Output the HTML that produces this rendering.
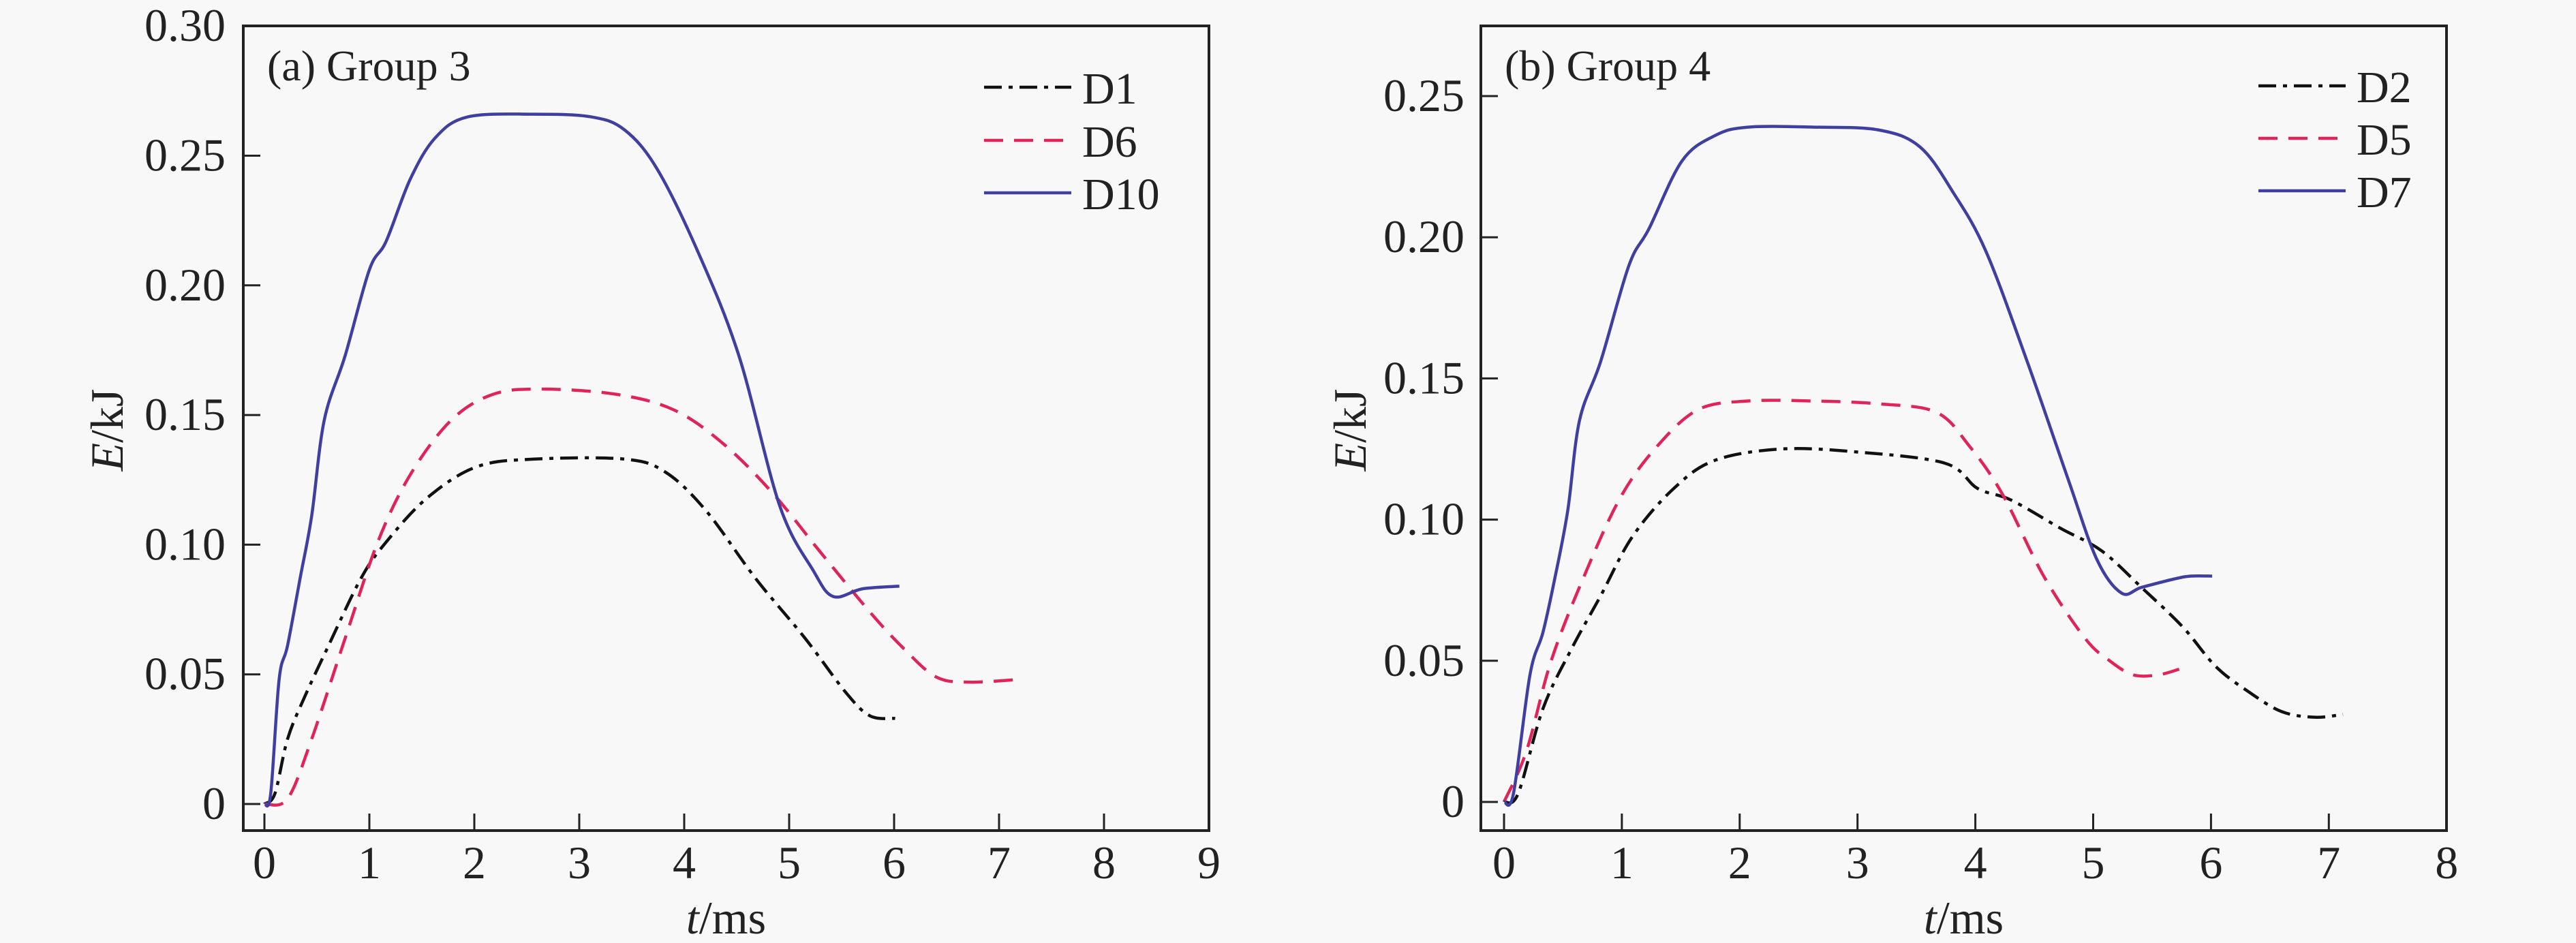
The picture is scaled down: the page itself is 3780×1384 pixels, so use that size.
<!DOCTYPE html>
<html><head><meta charset="utf-8"><style>
html,body{margin:0;padding:0;background:#f8f8f8;}
svg{display:block;font-family:"Liberation Serif",serif;}
</style></head><body>
<svg id="chart" width="3780" height="1384" viewBox="0 0 3780 1384" xmlns="http://www.w3.org/2000/svg">
<rect width="3780" height="1384" fill="#f8f8f8"/>
</svg>
<script>
// Panel (a) data
const aD1_t=[0,0.1,0.22,0.38,0.61,0.92,1.16,1.55,2.02,2.57,3.43,3.82,4.21,4.68,5.15,5.54,5.77,6.01];
const aD1_E=[0,0.004,0.025,0.041,0.061,0.087,0.101,0.118,0.130,0.133,0.133,0.128,0.113,0.087,0.064,0.043,0.034,0.033];
const aD6_t=[0,0.22,0.45,0.77,1.08,1.39,1.78,2.18,2.64,3.35,3.9,4.37,4.84,5.3,5.77,6.09,6.4,6.71,7.18];
const aD6_E=[0,0.002,0.025,0.064,0.101,0.127,0.148,0.158,0.160,0.158,0.152,0.139,0.120,0.097,0.074,0.060,0.049,0.047,0.048];
const aD10_t=[0,0.06,0.14,0.22,0.34,0.45,0.57,0.77,1.0,1.16,1.39,1.63,1.94,2.57,3.11,3.43,3.74,4.13,4.52,4.91,5.23,5.42,5.70,6.05];
const aD10_E=[0,0.004,0.048,0.061,0.087,0.111,0.148,0.173,0.206,0.217,0.241,0.257,0.265,0.266,0.265,0.260,0.245,0.213,0.173,0.115,0.090,0.080,0.083,0.084];
// Panel (b) data
const bD2_t=[0,0.12,0.33,0.57,0.82,1.09,1.44,1.79,2.35,2.98,3.74,4.02,4.30,4.72,5.07,5.41,5.76,6.04,6.32,6.6,6.88,7.12];
const bD2_E=[0,0.003,0.033,0.054,0.073,0.094,0.111,0.121,0.125,0.124,0.120,0.111,0.107,0.097,0.089,0.076,0.062,0.048,0.039,0.032,0.030,0.031];
const bD5_t=[0,0.19,0.4,0.68,0.99,1.3,1.65,2.07,2.63,3.18,3.67,3.95,4.23,4.58,4.93,5.14,5.34,5.55,5.73];
const bD5_E=[0,0.018,0.050,0.080,0.108,0.126,0.139,0.142,0.142,0.141,0.138,0.126,0.109,0.080,0.058,0.050,0.045,0.045,0.047];
const bD7_t=[0,0.08,0.22,0.33,0.43,0.54,0.64,0.82,1.06,1.23,1.51,1.79,2.07,2.63,3.18,3.53,3.81,4.09,4.44,4.79,5.03,5.24,5.41,5.69,5.83,6.01];
const bD7_E=[0,0.003,0.045,0.060,0.079,0.103,0.135,0.156,0.190,0.203,0.227,0.236,0.239,0.239,0.238,0.232,0.216,0.195,0.156,0.114,0.086,0.074,0.076,0.079,0.080,0.080];
const aXTicks=[0,1,2,3,4,5,6,7,8,9];
const aYTicks=[0,0.05,0.10,0.15,0.20,0.25,0.30];
const aYLabels=["0","0.05","0.10","0.15","0.20","0.25","0.30"];
const bXTicks=[0,1,2,3,4,5,6,7,8];
const bYTicks=[0,0.05,0.10,0.15,0.20,0.25];
const bYLabels=["0","0.05","0.10","0.15","0.20","0.25"];

const NS="http://www.w3.org/2000/svg";
const svg=document.getElementById('chart');
function mk(tag,attrs,parent){const e=document.createElementNS(NS,tag);for(const k in attrs)e.setAttribute(k,attrs[k]);(parent||svg).appendChild(e);return e;}
function smooth(pts){
  let d="M"+pts[0][0]+","+pts[0][1];
  for(let i=0;i<pts.length-1;i++){
    const p0=pts[Math.max(0,i-1)],p1=pts[i],p2=pts[i+1],p3=pts[Math.min(pts.length-1,i+2)];
    const c1=[p1[0]+(p2[0]-p0[0])/6,p1[1]+(p2[1]-p0[1])/6];
    const c2=[p2[0]-(p3[0]-p1[0])/6,p2[1]-(p3[1]-p1[1])/6];
    d+=" C"+c1[0]+","+c1[1]+" "+c2[0]+","+c2[1]+" "+p2[0]+","+p2[1];
  }
  return d;
}
function panel(cfg){
  const g=mk('g',{});
  
  
  const x=v=>cfg.x0+v*cfg.xs;
  const y=v=>cfg.y0-v/0.05*cfg.ys;
  const box=mk('rect',{x:cfg.L,y:cfg.T,width:cfg.R-cfg.L,height:cfg.B-cfg.T,fill:'none',stroke:'#222',"stroke-width":4},g);
  
  
  cfg.xt.forEach(v=>{
    const l=mk('line',{x1:x(v),x2:x(v),y1:cfg.B,y2:cfg.B-25,stroke:'#222',"stroke-width":3},g);
    
    
    const t=mk('text',{x:x(v),y:cfg.B+70,"font-size":68,"text-anchor":"middle",fill:'#222'},g);
    t.textContent=String(v);
    
    
  });
  cfg.yt.forEach((v,i)=>{
    const l=mk('line',{x1:cfg.L,x2:cfg.L+25,y1:y(v),y2:y(v),stroke:'#222',"stroke-width":3},g);
    
    
    const t=mk('text',{x:cfg.ylx,y:y(v)+22,"font-size":68,"text-anchor":"end",fill:'#222'},g);
    t.textContent=cfg.yl[i];
    
    
  });
  const xt=mk('text',{x:(cfg.L+cfg.R)/2,y:1370,"font-size":68,"text-anchor":"middle",fill:'#222'},g);
  xt.innerHTML='<tspan font-style="italic">t</tspan>/ms';
  
  
  const yt=mk('text',{x:0,y:0,"font-size":68,"text-anchor":"middle",fill:'#222',transform:`translate(${cfg.ytx},631) rotate(-90)`},g);
  yt.innerHTML='<tspan font-style="italic">E</tspan>/kJ';
  
  
  const ttl=mk('text',{x:cfg.L+35,y:118,"font-size":64,fill:'#222'},g);
  ttl.textContent=cfg.title;
  
  
  cfg.series.forEach((s,i)=>{
    const pts=s.t.map((tv,j)=>[x(tv),y(s.E[j])]);
    const p=mk('path',{d:smooth(pts),fill:'none',stroke:s.c,"stroke-width":4.5,"stroke-dasharray":s.dash||'none'},g);
    
    
    const ly=cfg.legY[i];
    const ll=mk('line',{x1:cfg.legX,x2:cfg.legX+128,y1:ly,y2:ly,stroke:s.c,"stroke-width":4.5,"stroke-dasharray":s.dash||'none'},g);
    
    
    const lt=mk('text',{x:cfg.legX+144,y:ly+24,"font-size":66,fill:'#222'},g);
    lt.textContent=s.n;
    
    
  });
}
const DD='26 10 6 10', DS='28 16';
panel({name:'panel-a',L:357,R:1774,T:38,B:1219,x0:388,xs:154,y0:1180,ys:190.3,xt:aXTicks,yt:aYTicks,yl:aYLabels,ylx:331,ytx:180,title:'(a) Group 3',legX:1444,legY:[128,206,283],
  series:[{n:'D1',t:aD1_t,E:aD1_E,c:'#111',dash:DD},{n:'D6',t:aD6_t,E:aD6_E,c:'#e0245a',dash:DS},{n:'D10',t:aD10_t,E:aD10_E,c:'#3f3f9f'}]});
panel({name:'panel-b',L:2173,R:3590,T:38,B:1219,x0:2207,xs:172.9,y0:1177,ys:207.2,xt:bXTicks,yt:bYTicks,yl:bYLabels,ylx:2149,ytx:2004,title:'(b) Group 4',legX:3314,legY:[126,203,280],
  series:[{n:'D2',t:bD2_t,E:bD2_E,c:'#111',dash:DD},{n:'D5',t:bD5_t,E:bD5_E,c:'#e0245a',dash:DS},{n:'D7',t:bD7_t,E:bD7_E,c:'#3f3f9f'}]});
</script>
</body></html>
